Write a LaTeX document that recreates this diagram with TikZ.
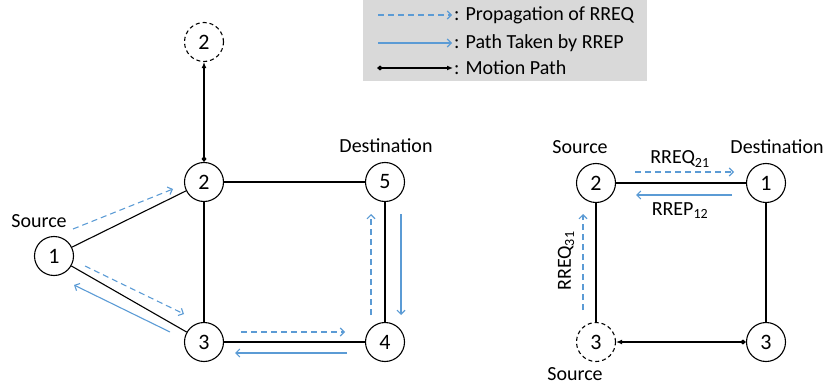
\documentclass[tikz,border=0pt]{standalone}
\usepackage{fontspec}
\setmainfont{Carlito}
\usetikzlibrary{arrows.meta}
\definecolor{rreqblue}{RGB}{91,155,213}

\begin{document}
\begin{tikzpicture}[x=1pt,y=-1pt,
  vertex/.style={draw,circle,line width=1.1pt,minimum size=39pt,inner sep=0pt,
    font=\fontsize{22}{26}\selectfont},
  ghost/.style={vertex,dash pattern=on 4pt off 3pt},
  link/.style={line width=1.1pt},
  req/.style={rreqblue,line width=1.1pt,dash pattern=on 6pt off 4pt,
    -{Straight Barb[length=4pt,width=8pt]}},
  rep/.style={rreqblue,line width=1.1pt,-{Straight Barb[length=4pt,width=8pt]}},
  motion/.style={line width=2pt,{Diamond[length=6pt,width=5pt]}-{Latex[length=6pt,width=5pt]}},
  lbl/.style={font=\fontsize{20}{24}\selectfont}]
  \useasboundingbox (0,0) rectangle (826,390);

  % legend
  \fill[gray!30] (363,0) rectangle (647,81);
  \coordinate (k1a) at (378,15);  \coordinate (k1b) at (452,15);
  \coordinate (k2a) at (378,43);  \coordinate (k2b) at (452,43);
  \coordinate (k3a) at (377,68);  \coordinate (k3b) at (453,68);
  \draw[req] (k1a) -- (k1b);
  \draw[rep] (k2a) -- (k2b);
  \draw[motion] (k3a) -- (k3b);
  \node[lbl,anchor=west,inner sep=1pt] (t1) at (453,15) {: Propagation of RREQ};
  \node[lbl,anchor=west,inner sep=1pt] (t2) at (453,43) {: Path Taken by RREP};
  \node[lbl,anchor=west,inner sep=1pt] (t3) at (453,68) {: Motion Path};

  % left network
  \node[vertex] (a1) at (54,256) {1};
  \node[vertex] (a2) at (204,182) {2};
  \node[vertex] (a3) at (204,342) {3};
  \node[vertex] (a4) at (385,342) {4};
  \node[vertex] (a5) at (385,182) {5};
  \node[ghost] (g2) at (204,42) {2};
  \node[lbl] (src1) at (39,221) {Source};
  \node[lbl] (dst1) at (386,146) {Destination};
  \draw[link] (a1) -- (a2);
  \draw[link] (a1) -- (a3);
  \draw[link] (a2) -- (a3);
  \draw[link] (a2) -- (a5);
  \draw[link] (a3) -- (a4);
  \draw[link] (a4) -- (a5);
  \draw[motion] (a2.north) -- (g2.south);

  \coordinate (p12a) at (73,229);   \coordinate (p12b) at (173,189);
  \coordinate (p13a) at (85,266);   \coordinate (p13b) at (184,314);
  \coordinate (p31a) at (170,332);  \coordinate (p31b) at (74,285);
  \coordinate (p34a) at (241,332);  \coordinate (p34b) at (345,332);
  \coordinate (p43a) at (347,353);  \coordinate (p43b) at (235,353);
  \coordinate (p45a) at (371,315);  \coordinate (p45b) at (371,214);
  \coordinate (p54a) at (401,214);  \coordinate (p54b) at (401,315);
  \draw[req] (p12a) -- (p12b);
  \draw[req] (p13a) -- (p13b);
  \draw[rep] (p31a) -- (p31b);
  \draw[req] (p34a) -- (p34b);
  \draw[rep] (p43a) -- (p43b);
  \draw[req] (p45a) -- (p45b);
  \draw[rep] (p54a) -- (p54b);

  % right network
  \node[vertex] (b2) at (596,183) {2};
  \node[vertex] (b1) at (766,183) {1};
  \node[vertex] (b3) at (766,342) {3};
  \node[ghost] (h3) at (596,342) {3};
  \node[lbl] (src2) at (580,147) {Source};
  \node[lbl] (dst2) at (777,147) {Destination};
  \node[lbl] (src3) at (575,374) {Source};
  \draw[link] (b2) -- (b1);
  \draw[link] (b1) -- (b3);
  \draw[link] (b2) -- (h3);
  \draw[motion] (b3.west) -- (h3.east);

  \coordinate (q21a) at (635,172);  \coordinate (q21b) at (734,172);
  \coordinate (q12a) at (732,195);  \coordinate (q12b) at (636,195);
  \coordinate (q32a) at (583,310);  \coordinate (q32b) at (583,214);
  \draw[req] (q21a) -- (q21b);
  \draw[rep] (q12a) -- (q12b);
  \draw[req] (q32a) -- (q32b);
  \node[lbl] (m21) at (680,159) {RREQ\textsubscript{21}};
  \node[lbl] (m12) at (680,211) {RREP\textsubscript{12}};
  \node[lbl,rotate=90] (m31) at (566,261) {RREQ\textsubscript{31}};
\end{tikzpicture}
\end{document}
